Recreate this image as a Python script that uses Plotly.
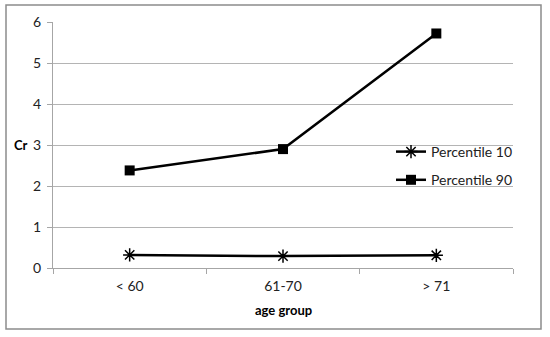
import plotly.graph_objects as go

categories = ["< 60", "61-70", "> 71"]
p10 = [0.32, 0.29, 0.31]
p90 = [2.38, 2.90, 5.72]
y_ticks = [0, 1, 2, 3, 4, 5, 6]

W, H = 550, 337
L, R, T, B = 53, 37, 22, 69
pw, ph = W - L - R, H - T - B

def px_x(x):
    return (x - L) / pw

def px_y(y):
    return (H - B - y) / ph

font = "Lato, 'Open Sans', sans-serif"

fig = go.Figure()
fig.add_trace(go.Scatter(
    x=categories, y=p10, name="Percentile 10", mode="lines+markers", legendgroup="a",
    line=dict(color="black", width=2.5),
    marker=dict(symbol="asterisk-open", size=11, color="black", line=dict(color="black", width=1.5)),
))
fig.add_trace(go.Scatter(
    x=categories, y=p90, name="Percentile 90", mode="lines+markers", legendgroup="b",
    line=dict(color="black", width=2.5),
    marker=dict(symbol="square", size=10, color="black"),
))

fig.update_layout(
    width=W, height=H,
    margin=dict(l=L, r=R, t=T, b=B),
    paper_bgcolor="white", plot_bgcolor="white",
    font=dict(family=font, size=13, color="#222"),
    showlegend=True,
    legend=dict(x=px_x(391), y=px_y(136), xanchor="left", yanchor="top",
                bgcolor="rgba(0,0,0,0)", font=dict(size=14, color="#222"),
                traceorder="grouped", tracegroupgap=7, itemwidth=30),
    xaxis=dict(
        type="category", range=[-0.5, 2.5],
        showgrid=False, showline=True, linecolor="#a6a6a6", linewidth=1,
        ticks="outside", ticklen=5, tickcolor="#a6a6a6",
        tickson="boundaries", tickfont=dict(size=14, color="#222"),
        ticklabelstandoff=5, zeroline=False,
    ),
    yaxis=dict(
        range=[0, 6], tickvals=y_ticks,
        showgrid=True, gridcolor="#b4b4b4", gridwidth=1,
        showline=True, linecolor="#a6a6a6", linewidth=1,
        ticks="outside", ticklen=5, tickcolor="#a6a6a6",
        tickfont=dict(size=14, color="#222"), ticklabelstandoff=3, zeroline=False,
    ),
    annotations=[
        dict(text="<b>Cr</b>", x=px_x(21), y=px_y(145), xref="paper", yref="paper",
             xanchor="center", yanchor="middle",
             showarrow=False, font=dict(size=13, color="black")),
        dict(text="<b>age group</b>", x=px_x(283), y=px_y(310), xref="paper", yref="paper",
             xanchor="center", yanchor="middle",
             showarrow=False, font=dict(size=13, color="black")),
    ],
    shapes=[
        dict(type="rect", xref="paper", yref="paper",
             x0=px_x(6), x1=px_x(541), y0=px_y(329), y1=px_y(5),
             line=dict(color="#8c8c8c", width=1.5), layer="below"),
    ],
)

fig.write_html("out.html", config={"displayModeBar": False},
               post_script="document.body.style.margin='0';document.body.style.padding='0';")
